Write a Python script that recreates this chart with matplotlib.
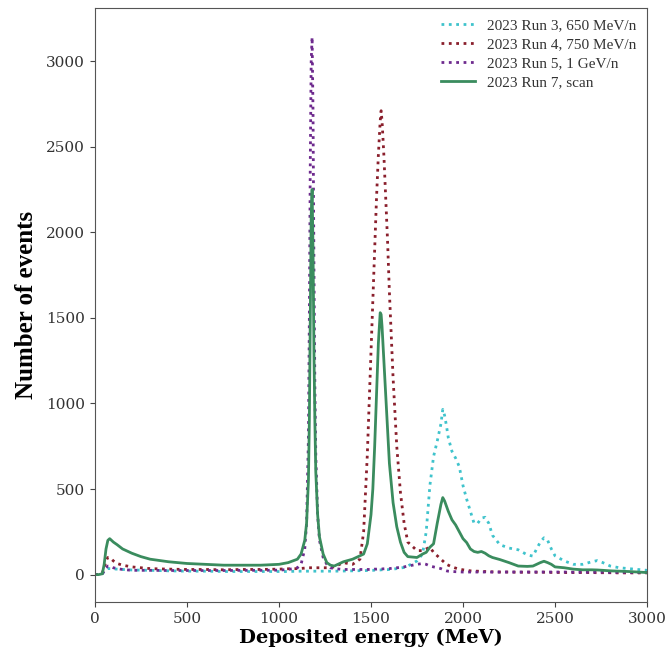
import matplotlib
matplotlib.use("Agg")
import matplotlib.pyplot as plt

energy = [0, 20, 40, 50, 60, 70, 80, 90, 100, 120, 150, 200, 250, 300, 400, 500, 600, 700, 800, 900,
          1000, 1050, 1100, 1120, 1140, 1150, 1160, 1165, 1170, 1175, 1180, 1185, 1190, 1195, 1200, 1210,
          1220, 1240, 1260, 1280, 1300, 1350, 1400, 1440, 1460, 1480, 1500, 1510, 1520, 1530, 1540, 1550,
          1555, 1560, 1570, 1580, 1590, 1600, 1620, 1640, 1660, 1680, 1700, 1750, 1780, 1800, 1820, 1840,
          1860, 1880, 1890, 1900, 1910, 1920, 1940, 1960, 1980, 2000, 2020, 2040, 2060, 2080, 2100, 2120,
          2140, 2160, 2200, 2250, 2300, 2350, 2380, 2400, 2420, 2440, 2460, 2480, 2500, 2550, 2600, 2650,
          2700, 2730, 2760, 2800, 2850, 2900, 2950, 3000]

run3 = [0, 0, 5, 20, 30, 35, 35, 35, 33, 32, 30, 27, 26, 25, 22, 20, 20, 18, 18, 18,
        18, 18, 20, 20, 20, 20, 20, 20, 20, 20, 20, 20, 20, 20, 20, 20,
        20, 20, 20, 20, 20, 21, 22, 23, 23, 24, 25, 25, 26, 26, 27, 27,
        28, 28, 28, 29, 29, 30, 32, 35, 38, 42, 50, 80, 120, 250, 520, 690,
        780, 880, 965, 930, 870, 800, 720, 680, 630, 520, 440, 370, 300, 300, 330, 335,
        300, 230, 175, 155, 145, 115, 108, 150, 190, 215, 200, 150, 110, 80, 60, 60,
        75, 82, 70, 50, 40, 35, 30, 25]

run4 = [0, 0, 10, 40, 80, 100, 100, 90, 80, 65, 55, 45, 40, 35, 32, 30, 30, 28, 30, 30,
        32, 34, 35, 36, 38, 38, 40, 40, 40, 40, 40, 40, 40, 40, 40, 40,
        40, 40, 40, 42, 45, 70, 60, 90, 250, 700, 1300, 1600, 1900, 2200, 2450, 2650,
        2710, 2650, 2450, 2200, 1950, 1650, 1150, 750, 480, 300, 190, 140, 140, 150, 160, 130,
        110, 90, 80, 70, 60, 55, 45, 38, 32, 28, 25, 22, 20, 20, 18, 18,
        17, 16, 15, 15, 14, 14, 14, 14, 14, 14, 13, 13, 13, 12, 12, 12,
        12, 11, 11, 11, 10, 10, 10, 10]

run5 = [0, 0, 5, 20, 40, 50, 50, 45, 40, 35, 30, 25, 25, 25, 24, 24, 24, 24, 25, 25,
        26, 30, 40, 60, 150, 300, 800, 1500, 2400, 3000, 3140, 2700, 1800, 1100, 700, 350,
        200, 100, 60, 40, 35, 30, 30, 30, 30, 30, 30, 30, 32, 32, 33, 33,
        33, 33, 34, 35, 35, 35, 38, 40, 42, 45, 50, 60, 65, 60, 50, 45,
        40, 35, 30, 25, 22, 20, 18, 17, 16, 15, 15, 15, 15, 15, 15, 15,
        15, 15, 15, 15, 15, 15, 15, 15, 15, 15, 15, 15, 15, 15, 14, 14,
        14, 14, 14, 13, 13, 13, 12, 12]

run7 = [0, 0, 5, 60, 150, 200, 210, 200, 190, 175, 150, 125, 105, 90, 75, 65, 60, 55, 55, 55,
        60, 70, 90, 120, 200, 300, 550, 900, 1500, 2100, 2250, 1900, 1300, 900, 600, 350,
        220, 120, 70, 55, 50, 75, 90, 110, 120, 180, 350, 500, 750, 1050, 1350, 1530,
        1520, 1450, 1250, 1050, 850, 650, 420, 280, 190, 130, 105, 100, 120, 130, 160, 180,
        300, 410, 450, 430, 400, 370, 320, 290, 250, 210, 187, 150, 135, 130, 135, 125,
        110, 100, 88, 70, 50, 48, 50, 60, 70, 78, 70, 60, 45, 40, 32, 28,
        28, 27, 25, 22, 20, 18, 15, 12]

labels = ["2023 Run 3, 650 MeV/n", "2023 Run 4, 750 MeV/n", "2023 Run 5, 1 GeV/n", "2023 Run 7, scan"]
colors = ["#3fc3cc", "#8a1f2c", "#6e2a8e", "#3a8c5e"]

fig = plt.figure(figsize=(6.66, 6.52), dpi=100)
ax = fig.add_axes([0.1426, 0.0767, 0.8289, 0.911])

ax.plot(energy, run3, linestyle=":", color=colors[0], lw=2.0, label=labels[0])
ax.plot(energy, run4, linestyle=":", color=colors[1], lw=2.0, label=labels[1])
ax.plot(energy, run5, linestyle=":", color=colors[2], lw=2.0, label=labels[2])
ax.plot(energy, run7, linestyle="-", color=colors[3], lw=2.0, label=labels[3])

ax.set_xlim(0, 3000)
ax.set_ylim(-160, 3310)
ax.set_xticks([0, 500, 1000, 1500, 2000, 2500, 3000])
ax.set_yticks([0, 500, 1000, 1500, 2000, 2500, 3000])
for t in ax.get_xticklabels() + ax.get_yticklabels():
    t.set_fontfamily("DejaVu Serif")
    t.set_fontsize(11)
    t.set_color("#333333")
ax.tick_params(colors="#444444", labelcolor="#333333")
for s in ax.spines.values():
    s.set_color("#555555")

ax.set_xlabel("Deposited energy (MeV)", fontfamily="DejaVu Serif", fontweight="bold", fontsize=14,
              labelpad=2)
ax.set_ylabel("Number of events", fontfamily="Liberation Serif", fontweight="bold", fontsize=18,
              labelpad=6)

leg = ax.legend(loc="upper right", frameon=False, prop={"family": "Liberation Serif", "size": 11},
                handlelength=2.2, labelspacing=0.35, borderaxespad=0.3)
for t in leg.get_texts():
    t.set_color("#333333")

fig.savefig("out.png", dpi=100)
